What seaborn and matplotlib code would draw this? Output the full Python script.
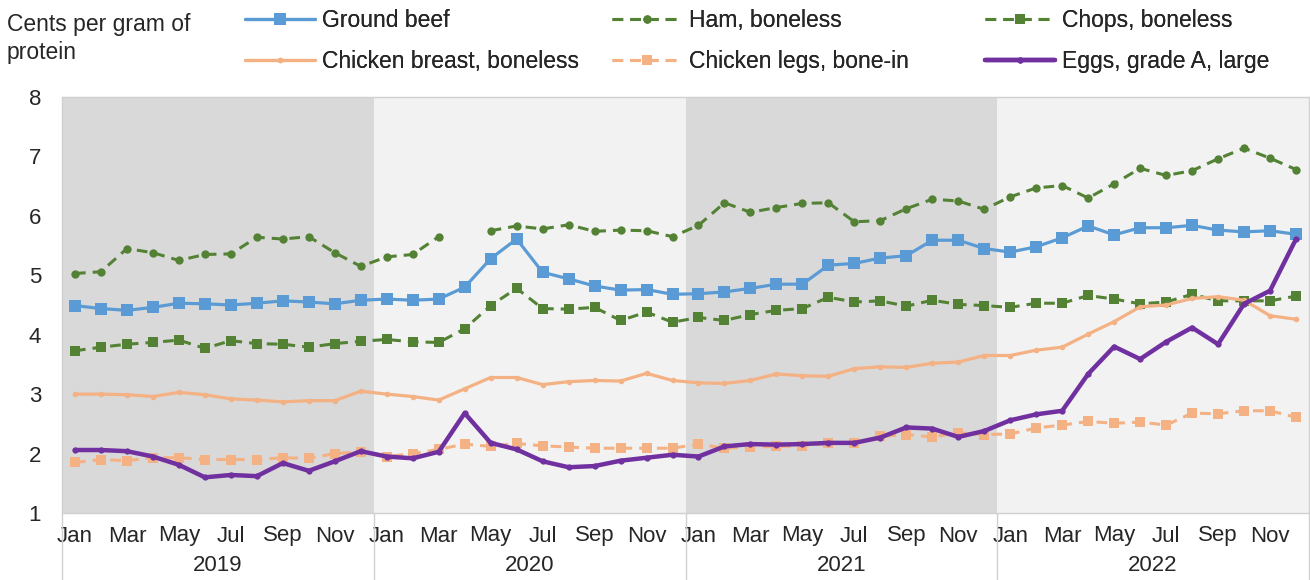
import numpy as np
import pandas as pd
import matplotlib
matplotlib.use('Agg')
import matplotlib.pyplot as plt
import matplotlib.transforms as mtransforms
import seaborn as sns

# Monthly data, Jan 2019 - Dec 2022
years = ['2019', '2020', '2021', '2022']
months = ['Jan', 'Feb', 'Mar', 'Apr', 'May', 'Jun', 'Jul', 'Aug', 'Sep', 'Oct', 'Nov', 'Dec']

ground_beef = [4.49, 4.44, 4.41, 4.46, 4.53, 4.52, 4.50, 4.53, 4.57, 4.55, 4.52, 4.58,
               4.60, 4.58, 4.60, 4.80, 5.28, 5.61, 5.05, 4.94, 4.82, 4.75, 4.76, 4.68,
               4.69, 4.72, 4.78, 4.85, 4.85, 5.17, 5.20, 5.29, 5.33, 5.59, 5.59, 5.45,
               5.39, 5.48, 5.63, 5.83, 5.68, 5.80, 5.80, 5.84, 5.76, 5.73, 5.75, 5.69]
ham = [5.03, 5.06, 5.45, 5.38, 5.25, 5.35, 5.36, 5.64, 5.61, 5.65, 5.38, 5.15,
       5.31, 5.35, 5.65, np.nan, 5.75, 5.83, 5.78, 5.85, 5.74, 5.76, 5.75, 5.65,
       5.84, 6.22, 6.06, 6.14, 6.21, 6.22, 5.90, 5.92, 6.12, 6.28, 6.25, 6.11,
       6.32, 6.47, 6.51, 6.30, 6.54, 6.80, 6.68, 6.76, 6.96, 7.14, 6.97, 6.78]
chops = [3.73, 3.79, 3.84, 3.87, 3.91, 3.77, 3.90, 3.85, 3.84, 3.79, 3.85, 3.89,
         3.92, 3.88, 3.87, 4.10, 4.49, 4.78, 4.44, 4.43, 4.46, 4.24, 4.38, 4.21,
         4.29, 4.24, 4.34, 4.41, 4.44, 4.63, 4.55, 4.57, 4.48, 4.58, 4.51, 4.49,
         4.46, 4.53, 4.53, 4.66, 4.60, 4.52, 4.55, 4.68, 4.57, 4.57, 4.57, 4.65]
chicken_breast = [3.00, 3.00, 2.99, 2.96, 3.03, 2.99, 2.92, 2.90, 2.87, 2.89, 2.89, 3.05,
                  3.00, 2.96, 2.90, 3.09, 3.28, 3.28, 3.16, 3.21, 3.23, 3.22, 3.35, 3.23,
                  3.19, 3.18, 3.23, 3.34, 3.31, 3.30, 3.43, 3.46, 3.45, 3.52, 3.54, 3.65,
                  3.65, 3.74, 3.79, 4.01, 4.22, 4.47, 4.50, 4.61, 4.64, 4.58, 4.32, 4.26]
chicken_legs = [1.85, 1.90, 1.88, 1.93, 1.93, 1.90, 1.90, 1.90, 1.93, 1.92, 2.00, 2.03,
                1.95, 2.00, 2.07, 2.16, 2.12, 2.17, 2.13, 2.11, 2.09, 2.09, 2.09, 2.09,
                2.16, 2.09, 2.11, 2.12, 2.13, 2.17, 2.17, 2.29, 2.32, 2.28, 2.35, 2.32,
                2.33, 2.43, 2.48, 2.54, 2.51, 2.53, 2.48, 2.68, 2.67, 2.72, 2.72, 2.61]
eggs = [2.06, 2.06, 2.04, 1.95, 1.81, 1.60, 1.64, 1.62, 1.84, 1.71, 1.87, 2.04,
        1.95, 1.92, 2.03, 2.68, 2.18, 2.07, 1.87, 1.77, 1.79, 1.88, 1.93, 1.98,
        1.95, 2.12, 2.16, 2.15, 2.16, 2.18, 2.18, 2.27, 2.44, 2.42, 2.28, 2.38,
        2.56, 2.66, 2.72, 3.34, 3.80, 3.59, 3.88, 4.12, 3.84, 4.52, 4.74, 5.61]

blue = '#5B9BD5'
green = '#548235'
orange = '#F4B183'
purple = '#7030A0'
dash = (0, (3.5, 2.3))

# name, values, color, linestyle, marker, markersize, linewidth
series = [
    ('Ground beef', ground_beef, blue, '-', 's', 8, 2.3),
    ('Ham, boneless', ham, green, dash, 'o', 6, 2.2),
    ('Chops, boneless', chops, green, dash, 's', 7, 2.2),
    ('Chicken breast, boneless', chicken_breast, orange, '-', 'o', 4, 2.3),
    ('Chicken legs, bone-in', chicken_legs, orange, dash, 's', 6.5, 2.2),
    ('Eggs, grade A, large', eggs, purple, '-', 'o', 4.5, 3.2),
]

sns.set_style('white')
plt.rcParams['font.family'] = ['Liberation Sans', 'DejaVu Sans']

fig = plt.figure(figsize=(13.1, 5.8), dpi=100)
ax = fig.add_axes([62 / 1310, 67 / 580, 1247 / 1310, 416 / 580])

x = np.arange(len(years) * len(months))

# alternating year bands
band_colors = ['#D9D9D9', '#F2F2F2']
for i, yr in enumerate(years):
    ax.axvspan(i * 12 - 0.5, i * 12 + 11.5, color=band_colors[i % 2], lw=0, zorder=0)

handles = {}
for name, vals, color, ls, mk, ms, lw in series:
    d = pd.DataFrame({'x': x, 'y': vals})
    d['seg'] = d['y'].isna().cumsum()
    d = d.dropna()
    # draw each unbroken run separately so the missing month leaves a gap
    for k, (_, g) in enumerate(d.groupby('seg')):
        sns.lineplot(data=g, x='x', y='y', ax=ax, color=color, linestyle=ls, lw=lw,
                     marker=mk, markersize=ms, markeredgecolor=color, markeredgewidth=0,
                     label=name if k == 0 else None, legend=False, zorder=3)
    handles[name] = ax.get_lines()[-1]

ax.set_xlim(-0.5, len(x) - 0.5)
ax.set_ylim(1, 8)
ax.set_yticks(range(1, 9))
ax.set_xticks(x[::2])
ax.set_xticklabels(months[::2] * len(years))
ax.tick_params(axis='y', length=0, pad=15, labelsize=16)
ax.tick_params(axis='x', length=0, pad=9, labelsize=16)
ax.set_xlabel('')
ax.set_ylabel('')
for s in ax.spines.values():
    s.set_color('#D0D0D0')
    s.set_linewidth(1)

# year labels and separators below the axis
trans = mtransforms.blended_transform_factory(ax.transData, ax.transAxes)
for i, yr in enumerate(years):
    ax.text(i * 12 + 5.5, -0.127, yr, transform=trans, ha='center', va='center', fontsize=16)
for i in range(len(years) + 1):
    ax.plot([i * 12 - 0.5] * 2, [0, -0.17], transform=trans, clip_on=False,
            color='#D0D0D0', lw=1)

fig.text(7 / 1310, 1 - 13 / 580, 'Cents per gram of\nprotein', ha='left', va='top',
         fontsize=16.5, linespacing=1.28)

# three legend columns with fixed starting positions
columns = [
    (245, ['Ground beef', 'Chicken breast, boneless']),
    (612, ['Ham, boneless', 'Chicken legs, bone-in']),
    (985, ['Chops, boneless', 'Eggs, grade A, large']),
]
for x0, names in columns:
    leg = fig.legend([handles[n] for n in names], names, loc='upper left',
                     bbox_to_anchor=(x0 / 1310, 1 - 9 / 580), frameon=False, fontsize=16.5,
                     borderpad=0, borderaxespad=0, handlelength=3.05, handletextpad=0.3,
                     labelspacing=0.8)
    fig.add_artist(leg)

fig.savefig('out.png', dpi=100)
